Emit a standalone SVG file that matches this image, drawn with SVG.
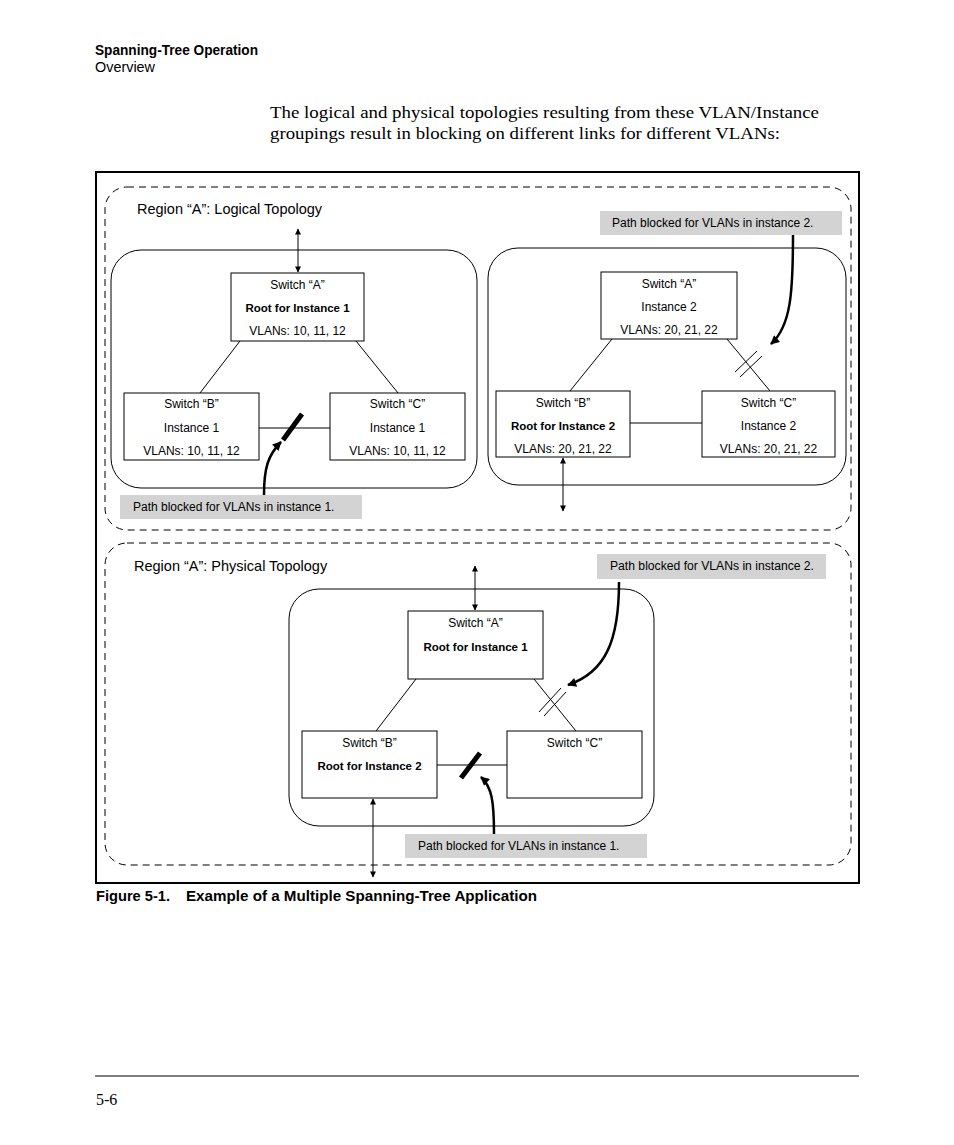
<svg xmlns="http://www.w3.org/2000/svg" width="954" height="1145" viewBox="0 0 954 1145">
<style>
.sans{font-family:"Liberation Sans",Arial,sans-serif;fill:#000}
.t{font-size:12px;text-anchor:middle}
.b{font-size:11.5px;font-weight:bold;text-anchor:middle}
.lbl{font-size:12px}
.reg{font-size:14.5px}
.serif{font-family:"Liberation Serif","Times New Roman",serif;fill:#000}
.box{fill:#fff;stroke:#000;stroke-width:1}
.grp{fill:none;stroke:#000;stroke-width:1}
.dash{fill:none;stroke:#000;stroke-width:1;stroke-dasharray:7 5}
.gray{fill:#d3d3d3;stroke:none}
.ln{stroke:#000;stroke-width:1;fill:none}
.blk{stroke:#000;stroke-width:5;fill:none}
.cur{stroke:#000;stroke-width:2.5;fill:none;marker-end:url(#ah)}
.dbl{stroke:#000;stroke-width:1;fill:none;marker-start:url(#sa);marker-end:url(#sa)}
</style>
<defs>
<marker id="ah" viewBox="0 0 10 10" refX="9" refY="5" markerWidth="12" markerHeight="9" markerUnits="userSpaceOnUse" orient="auto">
<path d="M0,0 L10,5 L0,10 z" fill="#000"/>
</marker>
<marker id="sa" viewBox="0 0 10 10" refX="9" refY="5" markerWidth="9" markerHeight="6" markerUnits="userSpaceOnUse" orient="auto-start-reverse">
<path d="M0,0 L10,5 L0,10 z" fill="#000"/>
</marker>
</defs>
<rect width="954" height="1145" fill="#fff"/>

<g id="header">
<text class="sans" x="95" y="55" font-size="14" font-weight="bold" textLength="163" lengthAdjust="spacingAndGlyphs">Spanning-Tree Operation</text>
<text class="sans" x="95" y="72" font-size="14" textLength="60" lengthAdjust="spacingAndGlyphs">Overview</text>
</g>
<g id="intro">
<text class="serif" x="270" y="118" font-size="17" textLength="549" lengthAdjust="spacingAndGlyphs">The logical and physical topologies resulting from these VLAN/Instance</text>
<text class="serif" x="270" y="139" font-size="17" textLength="510" lengthAdjust="spacingAndGlyphs">groupings result in blocking on different links for different VLANs:</text>
</g>

<g id="frame">
<rect x="96" y="172" width="763" height="711" fill="none" stroke="#000" stroke-width="2"/>
</g>

<g id="region-logical">
<rect class="dash" x="105" y="187" width="746" height="343" rx="22" ry="22"/>
<text class="sans reg" x="137" y="214">Region “A”: Logical Topology</text>
</g>
<g id="region-physical">
<rect class="dash" x="105" y="543" width="746" height="322" rx="22" ry="22"/>
<text class="sans reg" x="134" y="571">Region “A”: Physical Topology</text>
</g>

<g id="group-instance1">
<rect class="grp" x="111" y="250" width="366" height="238" rx="30" ry="30"/>
</g>
<g id="group-instance2">
<rect class="grp" x="488" y="248" width="358" height="237" rx="30" ry="30"/>
</g>
<g id="group-physical">
<rect class="grp" x="289" y="589" width="365" height="237" rx="30" ry="30"/>
</g>

<g id="connectors">
<line class="ln" x1="240" y1="341" x2="200" y2="393"/>
<line class="ln" x1="356" y1="341" x2="398" y2="393"/>
<line class="ln" x1="259" y1="428" x2="330" y2="428"/>
<line class="blk" x1="283" y1="440" x2="302" y2="414"/>
<line class="dbl" x1="298" y1="229" x2="298" y2="272"/>
<path class="cur" d="M264,495 C264,468 268,455 281,442"/>
<line class="ln" x1="612" y1="339" x2="570" y2="391"/>
<line class="ln" x1="727" y1="339" x2="770" y2="391"/>
<line class="ln" x1="630" y1="423" x2="702" y2="423"/>
<line class="ln" x1="735" y1="372" x2="757" y2="351"/>
<line class="ln" x1="740" y1="377" x2="762" y2="356"/>
<line class="dbl" x1="563" y1="458" x2="563" y2="511"/>
<path class="cur" d="M793,235 C793,292 791,326 771,344"/>
<line class="ln" x1="416" y1="679" x2="376" y2="731"/>
<line class="ln" x1="534" y1="679" x2="576" y2="731"/>
<line class="ln" x1="437" y1="765" x2="507" y2="765"/>
<line class="ln" x1="539" y1="712" x2="561" y2="688"/>
<line class="ln" x1="544" y1="716" x2="566" y2="692"/>
<line class="blk" x1="461" y1="778" x2="480" y2="753"/>
<line class="dbl" x1="475" y1="566" x2="475" y2="610"/>
<line class="dbl" x1="373" y1="799" x2="373" y2="877"/>
<path class="cur" d="M619,582 C619,640 606,672 568,685"/>
<path class="cur" d="M494,834 C494,802 492,787 481,777"/>
</g>

<g id="l-switch-a">
<rect class="box" x="231" y="273" width="133" height="68"/>
<text class="sans t" x="297.5" y="289">Switch “A”</text>
<text class="sans b" x="297.5" y="312">Root for Instance 1</text>
<text class="sans t" x="297.5" y="335">VLANs: 10, 11, 12</text>
</g>
<g id="l-switch-b">
<rect class="box" x="124" y="393" width="135" height="67"/>
<text class="sans t" x="191.5" y="408">Switch “B”</text>
<text class="sans t" x="191.5" y="432">Instance 1</text>
<text class="sans t" x="191.5" y="455">VLANs: 10, 11, 12</text>
</g>
<g id="l-switch-c">
<rect class="box" x="330" y="393" width="135" height="67"/>
<text class="sans t" x="397.5" y="408">Switch “C”</text>
<text class="sans t" x="397.5" y="432">Instance 1</text>
<text class="sans t" x="397.5" y="455">VLANs: 10, 11, 12</text>
</g>
<g id="l-block1-label">
<rect class="gray" x="120" y="495" width="242" height="24"/>
<text class="sans lbl" x="133" y="511">Path blocked for VLANs in instance 1.</text>
</g>

<g id="r-switch-a">
<rect class="box" x="601" y="272" width="136" height="67"/>
<text class="sans t" x="669" y="288">Switch “A”</text>
<text class="sans t" x="669" y="311">Instance 2</text>
<text class="sans t" x="669" y="334">VLANs: 20, 21, 22</text>
</g>
<g id="r-switch-b">
<rect class="box" x="496" y="391" width="134" height="66"/>
<text class="sans t" x="563" y="407">Switch “B”</text>
<text class="sans b" x="563" y="430">Root for Instance 2</text>
<text class="sans t" x="563" y="453">VLANs: 20, 21, 22</text>
</g>
<g id="r-switch-c">
<rect class="box" x="702" y="391" width="133" height="66"/>
<text class="sans t" x="768.5" y="407">Switch “C”</text>
<text class="sans t" x="768.5" y="430">Instance 2</text>
<text class="sans t" x="768.5" y="453">VLANs: 20, 21, 22</text>
</g>
<g id="r-block2-label">
<rect class="gray" x="600" y="211" width="242" height="24"/>
<text class="sans lbl" x="612" y="227">Path blocked for VLANs in instance 2.</text>
</g>

<g id="p-switch-a">
<rect class="box" x="408" y="611" width="135" height="68"/>
<text class="sans t" x="475.5" y="627">Switch “A”</text>
<text class="sans b" x="475.5" y="651">Root for Instance 1</text>
</g>
<g id="p-switch-b">
<rect class="box" x="302" y="731" width="135" height="67"/>
<text class="sans t" x="369.5" y="747">Switch “B”</text>
<text class="sans b" x="369.5" y="770">Root for Instance 2</text>
</g>
<g id="p-switch-c">
<rect class="box" x="507" y="731" width="135" height="67"/>
<text class="sans t" x="574.5" y="747">Switch “C”</text>
</g>
<g id="p-block2-label">
<rect class="gray" x="597" y="554" width="229" height="25"/>
<text class="sans lbl" x="610" y="570" textLength="204" lengthAdjust="spacingAndGlyphs">Path blocked for VLANs in instance 2.</text>
</g>
<g id="p-block1-label">
<rect class="gray" x="405" y="834" width="242" height="24"/>
<text class="sans lbl" x="418" y="850">Path blocked for VLANs in instance 1.</text>
</g>

<g id="caption">
<text class="sans" x="96" y="901" font-size="15" font-weight="bold" textLength="74" lengthAdjust="spacingAndGlyphs">Figure 5-1.</text>
<text class="sans" x="186" y="901" font-size="15" font-weight="bold" textLength="351" lengthAdjust="spacingAndGlyphs">Example of a Multiple Spanning-Tree Application</text>
</g>

<g id="footer">
<line x1="95" y1="1076" x2="859" y2="1076" stroke="#000" stroke-width="1"/>
<text class="serif" x="96" y="1105" font-size="16">5-6</text>
</g>
</svg>
